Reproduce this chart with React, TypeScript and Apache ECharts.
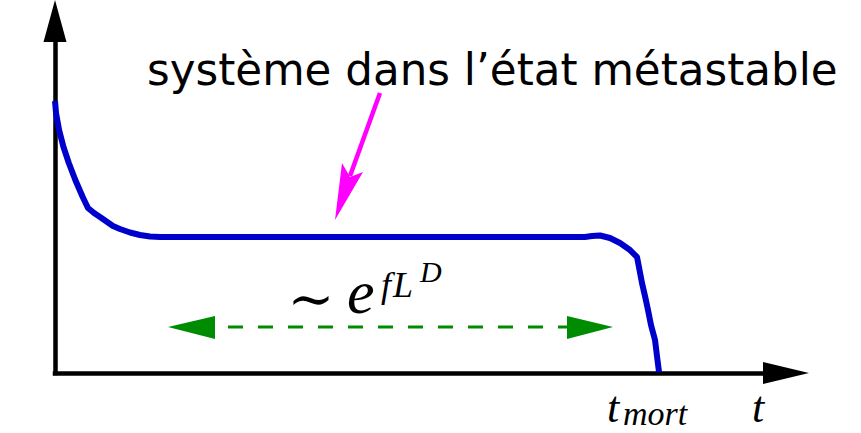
import React, { useEffect, useRef } from "react";
import * as echarts from "echarts";

// Curve: time (arbitrary units, 0..100) and observable (arbitrary units, 0..100)
const tValues = [0, 0.14, 0.56, 1.16, 1.89, 2.78, 3.79, 4.51, 5.34, 6.16, 7.93, 8.89, 10.26, 11.63, 13.0, 14.36, 72.5, 73.46, 74.56, 75.92, 77.29, 78.66, 79.62, 80.3, 80.71, 81.12, 81.53, 82.08, 82.35, 82.63];
const yValues = [77.27, 73.86, 69.03, 64.2, 59.66, 54.83, 50.0, 46.88, 45.45, 44.32, 41.76, 40.91, 39.91, 39.2, 38.78, 38.64, 38.64, 38.92, 39.06, 38.35, 36.93, 34.94, 32.95, 25.57, 21.88, 17.9, 13.64, 9.38, 4.83, 0.28];

const annotationLabel = "système dans l’état métastable";
const scalingTilde = "∼";
const scalingBase = "e";
const scalingF = "f";
const scalingL = "L";
const scalingD = "D";
const tMortMain = "t";
const tMortSub = "mort";
const axisLabelT = "t";

export default function App() {
  const ref = useRef<HTMLDivElement>(null);
  useEffect(() => {
    if (!ref.current) return;
    const chart = echarts.init(ref.current, undefined, { renderer: "svg" });
    const math = "'Liberation Serif', serif";
    const mathText = (text: string, x: number, y: number, size: number) => ({
      type: "text",
      x,
      y,
      style: {
        text,
        fontFamily: math,
        fontStyle: "italic",
        fontSize: size,
        fill: "#000",
        verticalAlign: "middle",
        align: "left",
      },
    });
    chart.setOption({
      animation: false,
      grid: { left: 55, right: 75, top: 21, bottom: 60, containLabel: false },
      xAxis: {
        type: "value",
        min: 0,
        max: 100,
        axisLine: {
          show: true,
          symbol: ["none", "triangle"],
          symbolSize: [22, 46],
          lineStyle: { color: "#000", width: 4.5, cap: "square" },
        },
        axisTick: { show: false },
        axisLabel: { show: false },
        splitLine: { show: false },
      },
      yAxis: {
        type: "value",
        min: 0,
        max: 100,
        axisLine: {
          show: true,
          symbol: ["none", "triangle"],
          symbolSize: [23, 42],
          lineStyle: { color: "#000", width: 4.5, cap: "square" },
        },
        axisTick: { show: false },
        axisLabel: { show: false },
        splitLine: { show: false },
      },
      series: [
        {
          type: "line",
          data: tValues.map((t, i) => [t, yValues[i]]),
          showSymbol: false,
          clip: false,
          smooth: false,
          lineStyle: { color: "#0000cc", width: 6, join: "round" },
          z: 3,
        },
      ],
      graphic: [
        {
          type: "text",
          x: 147,
          y: 70,
          style: {
            text: annotationLabel,
            fontFamily: "'DejaVu Sans', sans-serif",
            fontSize: 43.6,
            fill: "#000",
            verticalAlign: "middle",
            align: "left",
          },
        },
        {
          type: "line",
          shape: { x1: 380, y1: 93, x2: 350, y2: 176 },
          style: { stroke: "#ff00ff", lineWidth: 4.5 },
        },
        {
          type: "polygon",
          shape: { points: [[335, 220], [342, 163], [350, 177], [363, 172]] },
          style: { fill: "#ff00ff" },
        },
        {
          type: "line",
          shape: { x1: 228, y1: 327, x2: 567, y2: 327 },
          style: { stroke: "#008c00", lineWidth: 3, lineDash: [15, 15] },
        },
        {
          type: "polygon",
          shape: { points: [[168, 327], [215, 316], [215, 339]] },
          style: { fill: "#008c00" },
        },
        {
          type: "polygon",
          shape: { points: [[613, 327], [567, 316], [567, 339]] },
          style: { fill: "#008c00" },
        },
        {
          type: "text",
          x: 311,
          y: 298,
          style: {
            text: scalingTilde,
            fontFamily: "'DejaVu Serif', serif",
            fontSize: 56,
            fill: "#000",
            verticalAlign: "middle",
            align: "center",
          },
        },
        mathText(scalingBase, 347, 292, 62),
        mathText(scalingF, 381, 285, 36),
        mathText(scalingL, 393, 285, 36),
        mathText(scalingD, 420, 271, 30),
        mathText(tMortMain, 607, 407, 44),
        mathText(tMortSub, 623, 413, 34),
        mathText(axisLabelT, 752, 407, 44),
      ],
    });
    return () => chart.dispose();
  }, []);
  return <div ref={ref} style={{ width: 861, height: 433, position: "absolute", left: 0, top: 0 }} />;
}
